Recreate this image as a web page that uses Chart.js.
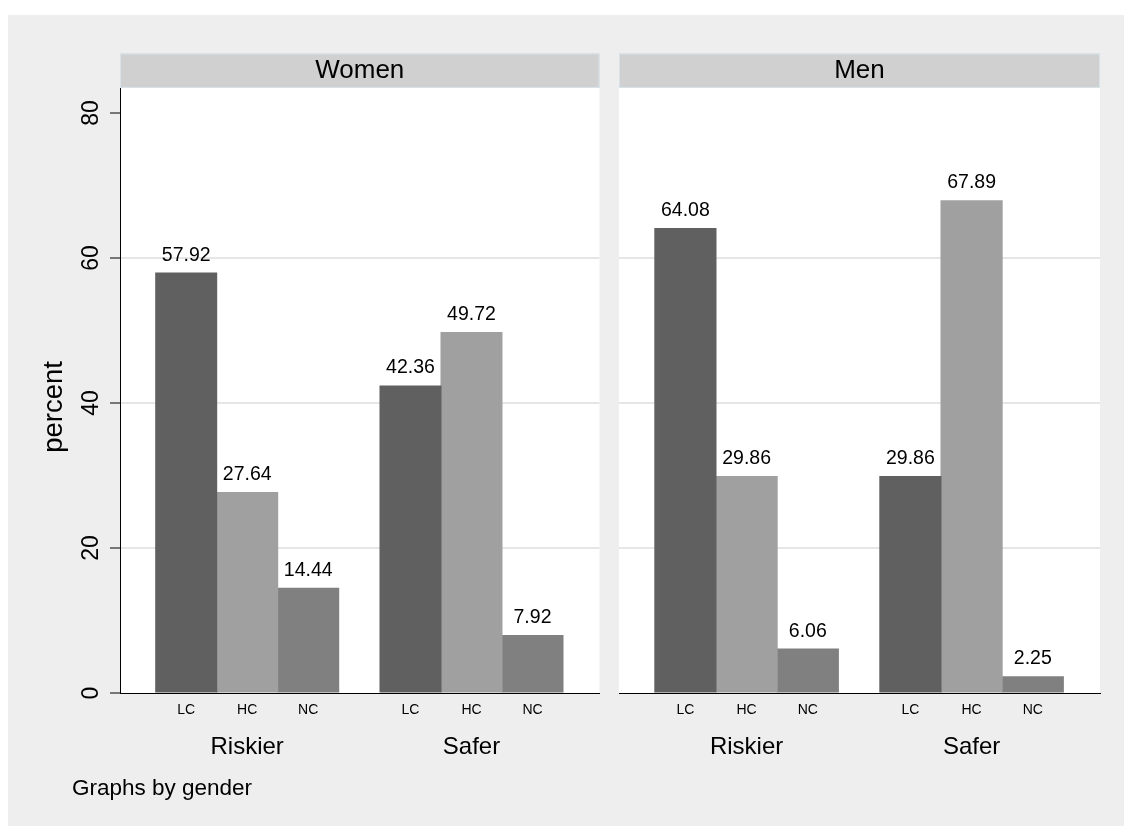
<!DOCTYPE html>
<html>
<head>
<meta charset="utf-8">
<script src="https://cdn.jsdelivr.net/npm/chart.js@4"></script>
<style>
  html, body { margin: 0; padding: 0; background: #fff; }
  #frame { position: relative; width: 1124px; height: 826px; overflow: hidden; background: #fff; }
  #region { position: absolute; left: 8px; top: 15px; right: 0; bottom: 0; background: #eeeeee; }
  canvas { position: absolute; left: 0; top: 0; }
</style>
</head>
<body>
<div id="frame">
  <div id="region"></div>
  <canvas id="women" width="1124" height="826"></canvas>
  <canvas id="men" width="1124" height="826"></canvas>
</div>
<script>
// Percent of choices by outcome, split by risk framing and gender
const panels = ['Women', 'Men'];
const groups = ['Riskier', 'Safer'];
const outcomes = ['LC', 'HC', 'NC'];
const womenLC = [57.92, 42.36];
const womenHC = [27.64, 49.72];
const womenNC = [14.44, 7.92];
const menLC = [64.08, 29.86];
const menHC = [29.86, 67.89];
const menNC = [6.06, 2.25];
const yTicks = [0, 20, 40, 60, 80];
const yTitle = 'percent';
const note = 'Graphs by gender';

const shades = ['#606060', '#a0a0a0', '#808080'];
const FONT = '"Liberation Sans", Arial, Helvetica, sans-serif';
Chart.defaults.font.family = FONT;
Chart.defaults.color = '#000';

// layout constants (page pixels)
const PLOT_TOP = 88, PLOT_BOTTOM = 693, HEADER_TOP = 53.5, PAGE_H = 826;
const Y_MAX = 83.45;
const X_MIN = 0.4329, X_MAX = 2.5707;

function series(values, k) {
  return {
    label: outcomes[k],
    data: values.map((v, i) => ({ x: i + 1, y: v })),
    backgroundColor: shades[k],
    borderWidth: 0,
    inflateAmount: 0.5,
    categoryPercentage: 0.816,
    barPercentage: 1
  };
}

const panelDecor = {
  id: 'panelDecor',
  beforeDraw(chart, args, opts) {
    const { ctx, chartArea: a } = chart;
    ctx.save();
    ctx.fillStyle = '#fff';
    ctx.fillRect(a.left, a.top, a.right - a.left, a.bottom - a.top);
    ctx.fillStyle = '#d0d0d0';
    ctx.fillRect(a.left, HEADER_TOP, a.right - a.left, a.top - HEADER_TOP);
    ctx.strokeStyle = '#d6e3ea';
    ctx.lineWidth = 1;
    ctx.strokeRect(a.left + 0.5, HEADER_TOP + 0.5, a.right - a.left - 1, a.top - HEADER_TOP - 1);
    ctx.fillStyle = '#000';
    ctx.font = '26px ' + FONT;
    ctx.textAlign = 'center';
    ctx.textBaseline = 'alphabetic';
    ctx.fillText(opts.title, (a.left + a.right) / 2, 78);
    ctx.restore();
  },
  afterDatasetsDraw(chart) {
    const { ctx } = chart;
    ctx.save();
    ctx.fillStyle = '#000';
    ctx.textAlign = 'center';
    ctx.textBaseline = 'alphabetic';
    chart.data.datasets.forEach((ds, d) => {
      chart.getDatasetMeta(d).data.forEach((bar, i) => {
        ctx.font = '19.5px ' + FONT;
        ctx.fillText(ds.data[i].y.toFixed(2), bar.x, bar.y - 12.5);
        ctx.font = '14px ' + FONT;
        ctx.fillText(ds.label, bar.x, 714);
      });
    });
    ctx.restore();
  },
  afterDraw(chart, args, opts) {
    if (!opts.outer) return;
    const { ctx } = chart;
    ctx.save();
    ctx.fillStyle = '#000';
    ctx.font = '22.5px ' + FONT;
    ctx.textAlign = 'left';
    ctx.textBaseline = 'alphabetic';
    ctx.fillText(note, 72, 795);
    ctx.translate(62, 407);
    ctx.rotate(-Math.PI / 2);
    ctx.font = '27.5px ' + FONT;
    ctx.textAlign = 'center';
    ctx.fillText(yTitle, 0, 0);
    ctx.restore();
  }
};

function makeChart(id, p, seriesList, leftAxis) {
  return new Chart(document.getElementById(id), {
    type: 'bar',
    data: { datasets: seriesList.map((v, k) => series(v, k)) },
    plugins: [panelDecor],
    options: {
      responsive: false,
      animation: false,
      events: [],
      layout: {
        padding: leftAxis
          ? { left: 0, right: 524.5, top: PLOT_TOP, bottom: 0 }
          : { left: 619, right: 24, top: PLOT_TOP, bottom: 0 }
      },
      plugins: {
        legend: { display: false },
        tooltip: { enabled: false },
        panelDecor: { title: panels[p], outer: leftAxis }
      },
      scales: {
        x: {
          type: 'linear',
          min: X_MIN,
          max: X_MAX,
          offset: false,
          grid: { display: false, offset: false },
          border: { display: true, color: '#000', width: 1 },
          ticks: { padding: 32, font: { size: 24 }, callback: (v, i) => groups[i] },
          afterBuildTicks: s => { s.ticks = groups.map((g, i) => ({ value: i + 1 })); },
          afterFit: s => { s.height = PAGE_H - PLOT_BOTTOM; s.paddingLeft = 0; s.paddingRight = 0; }
        },
        y: {
          min: 0,
          max: Y_MAX,
          afterBuildTicks: s => { s.ticks = yTicks.map(v => ({ value: v })); },
          afterFit: s => { s.width = leftAxis ? 120 : 0; s.paddingTop = 0; s.paddingBottom = 0; },
          grid: {
            color: c => (c.tick && (c.tick.value === 0 || c.tick.value === 80)) ? 'rgba(0,0,0,0)' : '#e6e6e6',
            lineWidth: 2,
            drawTicks: leftAxis,
            tickLength: 10,
            tickColor: '#000',
            tickWidth: 1
          },
          border: { display: leftAxis, color: '#000', width: 1 },
          ticks: {
            display: leftAxis,
            minRotation: 90,
            maxRotation: 90,
            crossAlign: 'center',
            padding: 6,
            font: { size: 23 }
          }
        }
      }
    }
  });
}

makeChart('women', 0, [womenLC, womenHC, womenNC], true);
makeChart('men', 1, [menLC, menHC, menNC], false);
</script>
</body>
</html>
